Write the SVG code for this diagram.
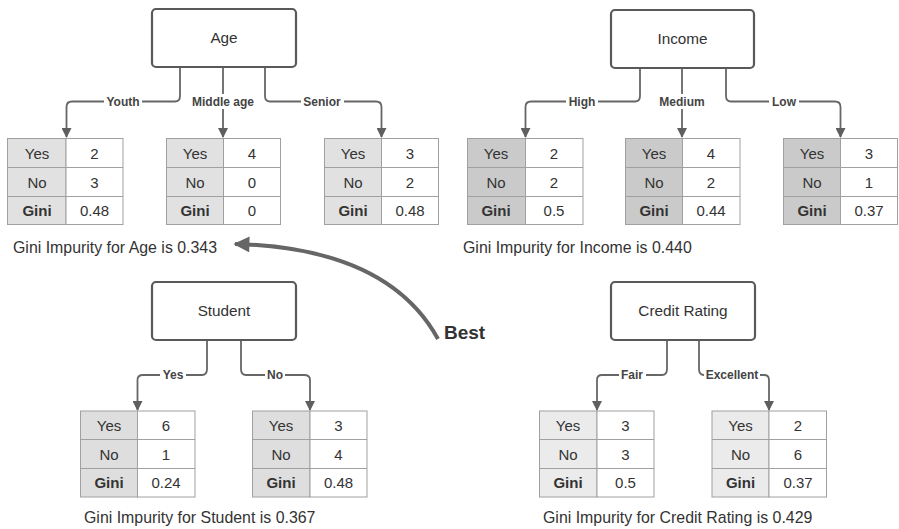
<svg xmlns="http://www.w3.org/2000/svg" width="899" height="529" viewBox="0 0 899 529">
  <defs>
    <marker id="tri" viewBox="0 0 10 10" refX="9" refY="5" markerWidth="10" markerHeight="10" markerUnits="userSpaceOnUse" orient="auto">
      <path d="M0,0 L10,5 L0,10 z" fill="#5f5f5f"/>
    </marker>
    <marker id="bigtri" viewBox="0 0 10 10" refX="9" refY="5" markerWidth="20" markerHeight="16" markerUnits="userSpaceOnUse" orient="auto">
      <path d="M0,0 L10,5 L0,10 z" fill="#666"/>
    </marker>
  </defs>
  <style>
    .node rect.box { fill: #fff; stroke: #595959; stroke-width: 2.2; }
    .node text { font-family: "Liberation Sans", Arial, sans-serif; font-size: 15.3px; fill: #333; text-anchor: middle; dominant-baseline: central; }
    .tbl rect { stroke: #a0a0a0; stroke-width: 1; }
    .tbl line { stroke: #a0a0a0; stroke-width: 1; }
    .tbl text { font-family: "Liberation Sans", Arial, sans-serif; font-size: 15px; fill: #333; text-anchor: middle; dominant-baseline: central; }
    .tbl text.b { font-weight: bold; }
    .conn path { fill: none; stroke: #666; stroke-width: 1.8; }
    .lbl rect { fill: #fff; }
    .lbl text { font-family: "Liberation Sans", Arial, sans-serif; font-size: 12px; font-weight: bold; fill: #444; text-anchor: middle; dominant-baseline: central; }
    .cap { font-family: "Liberation Sans", Arial, sans-serif; font-size: 15.9px; fill: #333; }
  </style>
  <rect width="899" height="529" fill="#fff"/>

  <!-- connectors -->
  <g id="connectors" class="conn">
    <path d="M180,68 V96 Q180,101.5 175,101.5 H72 Q66.5,101.5 66.5,107 V137" marker-end="url(#tri)"/>
    <path d="M223,68 V137" marker-end="url(#tri)"/>
    <path d="M265,68 V96 Q265,101.5 270,101.5 H376 Q381.5,101.5 381.5,107 V137" marker-end="url(#tri)"/>

    <path d="M640,68 V96 Q640,101.5 635,101.5 H531 Q525.5,101.5 525.5,107 V137" marker-end="url(#tri)"/>
    <path d="M682,68 V137" marker-end="url(#tri)"/>
    <path d="M726,68 V96 Q726,101.5 731,101.5 H835 Q840.5,101.5 840.5,107 V137" marker-end="url(#tri)"/>

    <path d="M207,341 V369 Q207,375 202,375 H143 Q137.5,375 137.5,380 V410" marker-end="url(#tri)"/>
    <path d="M241,341 V369 Q241,375 246,375 H304 Q310,375 310,380 V410" marker-end="url(#tri)"/>

    <path d="M667,341 V369 Q667,375 662,375 H602 Q597,375 597,380 V410" marker-end="url(#tri)"/>
    <path d="M699,341 V369 Q699,375 704,375 H764 Q769,375 769,380 V410" marker-end="url(#tri)"/>

    <path d="M438,339 Q388,248 235,244" style="stroke-width:4" marker-end="url(#bigtri)"/>
  </g>

  <!-- edge labels -->
  <g id="edge-labels" class="lbl">
    <rect x="104" y="94" width="38" height="15"/><text x="123" y="101.5">Youth</text>
    <rect x="188" y="94" width="70" height="15"/><text x="223" y="101.5">Middle age</text>
    <rect x="301" y="94" width="43" height="15"/><text x="322" y="101.5">Senior</text>
    <rect x="566" y="94" width="32" height="15"/><text x="582" y="101.5">High</text>
    <rect x="656" y="94" width="52" height="15"/><text x="682" y="101.5">Medium</text>
    <rect x="769" y="94" width="30" height="15"/><text x="784" y="101.5">Low</text>
    <rect x="160" y="368" width="26" height="15"/><text x="173" y="375">Yes</text>
    <rect x="265" y="368" width="20" height="15"/><text x="275" y="375">No</text>
    <rect x="619" y="368" width="27" height="15"/><text x="632" y="375">Fair</text>
    <rect x="704" y="368" width="56" height="15"/><text x="732" y="375">Excellent</text>
  </g>

  <!-- Age -->
  <g id="age" class="node">
    <rect class="box" x="152" y="9" width="144" height="58" rx="4"/>
    <text x="224" y="37">Age</text>
  </g>
  <g id="age-youth" class="tbl">
    <rect x="7.5" y="138.5" width="58.5" height="86" fill="#e1e1e1"/>
    <rect x="66" y="138.5" width="57" height="86" fill="#fff"/>
    <line x1="7.5" y1="167.5" x2="123" y2="167.5"/><line x1="7.5" y1="196.5" x2="123" y2="196.5"/>
    <text x="37" y="153">Yes</text><text x="94.5" y="153">2</text>
    <text x="37" y="182">No</text><text x="94.5" y="182">3</text>
    <text x="37" y="210.5" class="b">Gini</text><text x="94.5" y="210.5">0.48</text>
  </g>
  <g id="age-middle" class="tbl">
    <rect x="166.5" y="138.5" width="57" height="86" fill="#e1e1e1"/>
    <rect x="223.5" y="138.5" width="57" height="86" fill="#fff"/>
    <line x1="166.5" y1="167.5" x2="280.5" y2="167.5"/><line x1="166.5" y1="196.5" x2="280.5" y2="196.5"/>
    <text x="195" y="153">Yes</text><text x="252" y="153">4</text>
    <text x="195" y="182">No</text><text x="252" y="182">0</text>
    <text x="195" y="210.5" class="b">Gini</text><text x="252" y="210.5">0</text>
  </g>
  <g id="age-senior" class="tbl">
    <rect x="324.5" y="138.5" width="57" height="86" fill="#e1e1e1"/>
    <rect x="381.5" y="138.5" width="57" height="86" fill="#fff"/>
    <line x1="324.5" y1="167.5" x2="438.5" y2="167.5"/><line x1="324.5" y1="196.5" x2="438.5" y2="196.5"/>
    <text x="353" y="153">Yes</text><text x="410" y="153">3</text>
    <text x="353" y="182">No</text><text x="410" y="182">2</text>
    <text x="353" y="210.5" class="b">Gini</text><text x="410" y="210.5">0.48</text>
  </g>
  <text class="cap" x="13" y="252.5">Gini Impurity for Age is 0.343</text>

  <!-- Income -->
  <g id="income" class="node">
    <rect class="box" x="611" y="10" width="143" height="58" rx="4"/>
    <text x="682.5" y="38">Income</text>
  </g>
  <g id="income-high" class="tbl">
    <rect x="467.5" y="138.5" width="58" height="86" fill="#cacaca"/>
    <rect x="525.5" y="138.5" width="57.5" height="86" fill="#fff"/>
    <line x1="467.5" y1="167.5" x2="583" y2="167.5"/><line x1="467.5" y1="196.5" x2="583" y2="196.5"/>
    <text x="496" y="153">Yes</text><text x="554" y="153">2</text>
    <text x="496" y="182">No</text><text x="554" y="182">2</text>
    <text x="496" y="210.5" class="b">Gini</text><text x="554" y="210.5">0.5</text>
  </g>
  <g id="income-medium" class="tbl">
    <rect x="625.5" y="138.5" width="57" height="86" fill="#cacaca"/>
    <rect x="682.5" y="138.5" width="57.5" height="86" fill="#fff"/>
    <line x1="625.5" y1="167.5" x2="740" y2="167.5"/><line x1="625.5" y1="196.5" x2="740" y2="196.5"/>
    <text x="654" y="153">Yes</text><text x="711" y="153">4</text>
    <text x="654" y="182">No</text><text x="711" y="182">2</text>
    <text x="654" y="210.5" class="b">Gini</text><text x="711" y="210.5">0.44</text>
  </g>
  <g id="income-low" class="tbl">
    <rect x="783.5" y="138.5" width="57" height="86" fill="#cacaca"/>
    <rect x="840.5" y="138.5" width="57" height="86" fill="#fff"/>
    <line x1="783.5" y1="167.5" x2="897.5" y2="167.5"/><line x1="783.5" y1="196.5" x2="897.5" y2="196.5"/>
    <text x="812" y="153">Yes</text><text x="869" y="153">3</text>
    <text x="812" y="182">No</text><text x="869" y="182">1</text>
    <text x="812" y="210.5" class="b">Gini</text><text x="869" y="210.5">0.37</text>
  </g>
  <text class="cap" x="463" y="252.5">Gini Impurity for Income is 0.440</text>

  <!-- Student -->
  <g id="student" class="node">
    <rect class="box" x="152" y="282" width="144" height="58" rx="4"/>
    <text x="224" y="310">Student</text>
  </g>
  <g id="student-yes" class="tbl">
    <rect x="80.5" y="411" width="57" height="86" fill="#dedede"/>
    <rect x="137.5" y="411" width="57.5" height="86" fill="#fff"/>
    <line x1="80.5" y1="439.5" x2="195" y2="439.5"/><line x1="80.5" y1="468.5" x2="195" y2="468.5"/>
    <text x="109" y="425">Yes</text><text x="166" y="425">6</text>
    <text x="109" y="454">No</text><text x="166" y="454">1</text>
    <text x="109" y="482.5" class="b">Gini</text><text x="166" y="482.5">0.24</text>
  </g>
  <g id="student-no" class="tbl">
    <rect x="252.5" y="411" width="57.5" height="86" fill="#dedede"/>
    <rect x="310" y="411" width="57" height="86" fill="#fff"/>
    <line x1="252.5" y1="439.5" x2="367" y2="439.5"/><line x1="252.5" y1="468.5" x2="367" y2="468.5"/>
    <text x="281" y="425">Yes</text><text x="338.5" y="425">3</text>
    <text x="281" y="454">No</text><text x="338.5" y="454">4</text>
    <text x="281" y="482.5" class="b">Gini</text><text x="338.5" y="482.5">0.48</text>
  </g>
  <text class="cap" x="84" y="522.5">Gini Impurity for Student is 0.367</text>

  <!-- Credit Rating -->
  <g id="credit-rating" class="node">
    <rect class="box" x="611" y="282" width="144" height="58" rx="4"/>
    <text x="683" y="310">Credit Rating</text>
  </g>
  <g id="credit-fair" class="tbl">
    <rect x="539.5" y="411" width="57.5" height="86" fill="#ebebeb"/>
    <rect x="597" y="411" width="57" height="86" fill="#fff"/>
    <line x1="539.5" y1="439.5" x2="654" y2="439.5"/><line x1="539.5" y1="468.5" x2="654" y2="468.5"/>
    <text x="568" y="425">Yes</text><text x="625.5" y="425">3</text>
    <text x="568" y="454">No</text><text x="625.5" y="454">3</text>
    <text x="568" y="482.5" class="b">Gini</text><text x="625.5" y="482.5">0.5</text>
  </g>
  <g id="credit-excellent" class="tbl">
    <rect x="712" y="411" width="57" height="86" fill="#ebebeb"/>
    <rect x="769" y="411" width="57.5" height="86" fill="#fff"/>
    <line x1="712" y1="439.5" x2="826.5" y2="439.5"/><line x1="712" y1="468.5" x2="826.5" y2="468.5"/>
    <text x="740.5" y="425">Yes</text><text x="798" y="425">2</text>
    <text x="740.5" y="454">No</text><text x="798" y="454">6</text>
    <text x="740.5" y="482.5" class="b">Gini</text><text x="798" y="482.5">0.37</text>
  </g>
  <text class="cap" x="543" y="522.5">Gini Impurity for Credit Rating is 0.429</text>

  <!-- best split callout -->
  <text x="444" y="339" style="font-family:'Liberation Sans',Arial,sans-serif;font-size:19px;font-weight:bold;fill:#333">Best</text>
</svg>
